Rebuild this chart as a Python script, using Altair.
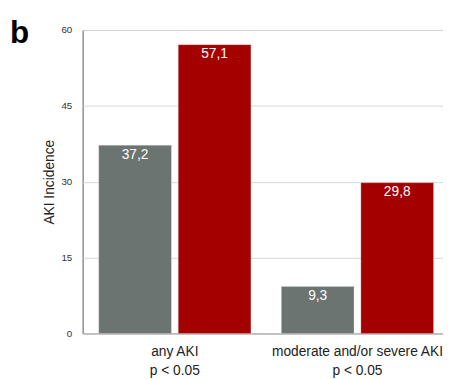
import altair as alt
import pandas as pd

categories = ["any AKI", "moderate and/or severe AKI"]
pvalue_labels = ["p < 0.05", "p < 0.05"]
groups = ["Group 1", "Group 2"]
values_group1 = [37.2, 9.3]
values_group2 = [57.1, 29.8]
y_ticks = [0, 15, 30, 45, 60]
colors = ["#6b7470", "#a50000"]

rows = []
for c, p, v1, v2 in zip(categories, pvalue_labels, values_group1, values_group2):
    for g, v in zip(groups, [v1, v2]):
        rows.append({
            "category": f"{c}|{p}",
            "group": g,
            "value": v,
            "label": f"{v:.1f}".replace(".", ","),
        })
df = pd.DataFrame(rows)
cat_order = [f"{c}|{p}" for c, p in zip(categories, pvalue_labels)]

x_enc = alt.X(
    "category:N",
    sort=cat_order,
    scale=alt.Scale(paddingInner=0.1667, paddingOuter=0.07, align=0.63),
    axis=alt.Axis(
        title=None,
        labelAngle=0,
        labelExpr="split(datum.label, '|')",
        labelFontSize=14,
        labelColor="#222222",
        labelLineHeight=20,
        labelPadding=11,
        ticks=False,
        tickSize=0,
        domain=False,
        grid=False,
    ),
)
xoff_enc = alt.XOffset("group:N", sort=groups,
                       scale=alt.Scale(paddingInner=0.0864, paddingOuter=0))
y_enc = alt.Y(
    "value:Q",
    scale=alt.Scale(domain=[0, 60], nice=False),
    axis=alt.Axis(
        title="AKI Incidence",
        values=y_ticks,
        ticks=False,
        tickSize=0,
        domain=False,
        labelFontSize=10,
        labelColor="#333333",
        labelPadding=11,
        titleFontSize=14,
        titleFontWeight="normal",
        titleColor="#222222",
        titleX=-30,
        titleBaseline="alphabetic",
        gridColor="#d6d6d6",
        gridWidth=1,
    ),
)

base = alt.Chart(df)
bars = base.mark_bar(stroke="#e0e0e0", strokeWidth=0.6, strokeOpacity=0.5).encode(
    x=x_enc,
    xOffset=xoff_enc,
    y=y_enc,
    color=alt.Color("group:N", sort=groups,
                    scale=alt.Scale(domain=groups, range=colors), legend=None),
)
labels = base.mark_text(color="white", fontSize=14, baseline="middle", dy=10).encode(
    x=x_enc,
    xOffset=xoff_enc,
    y=y_enc,
    text="label:N",
)

chart = (
    alt.layer(bars, labels)
    .properties(
        width=367,
        height=309,
        autosize=alt.AutoSizeParams(type="none"),
        padding={"left": 76, "top": 19, "right": 0, "bottom": 43},
        title=alt.TitleParams(
            "b", anchor="start", frame="group", fontSize=32, fontWeight="bold",
            font="Liberation Sans", color="#000000", baseline="alphabetic",
            offset=-50, dx=-74,
        ),
    )
    .configure(font="Liberation Sans")
    .configure_view(stroke="#555555", strokeWidth=1)
)

chart.save("out.html", embed_options={"renderer": "svg", "actions": False})
